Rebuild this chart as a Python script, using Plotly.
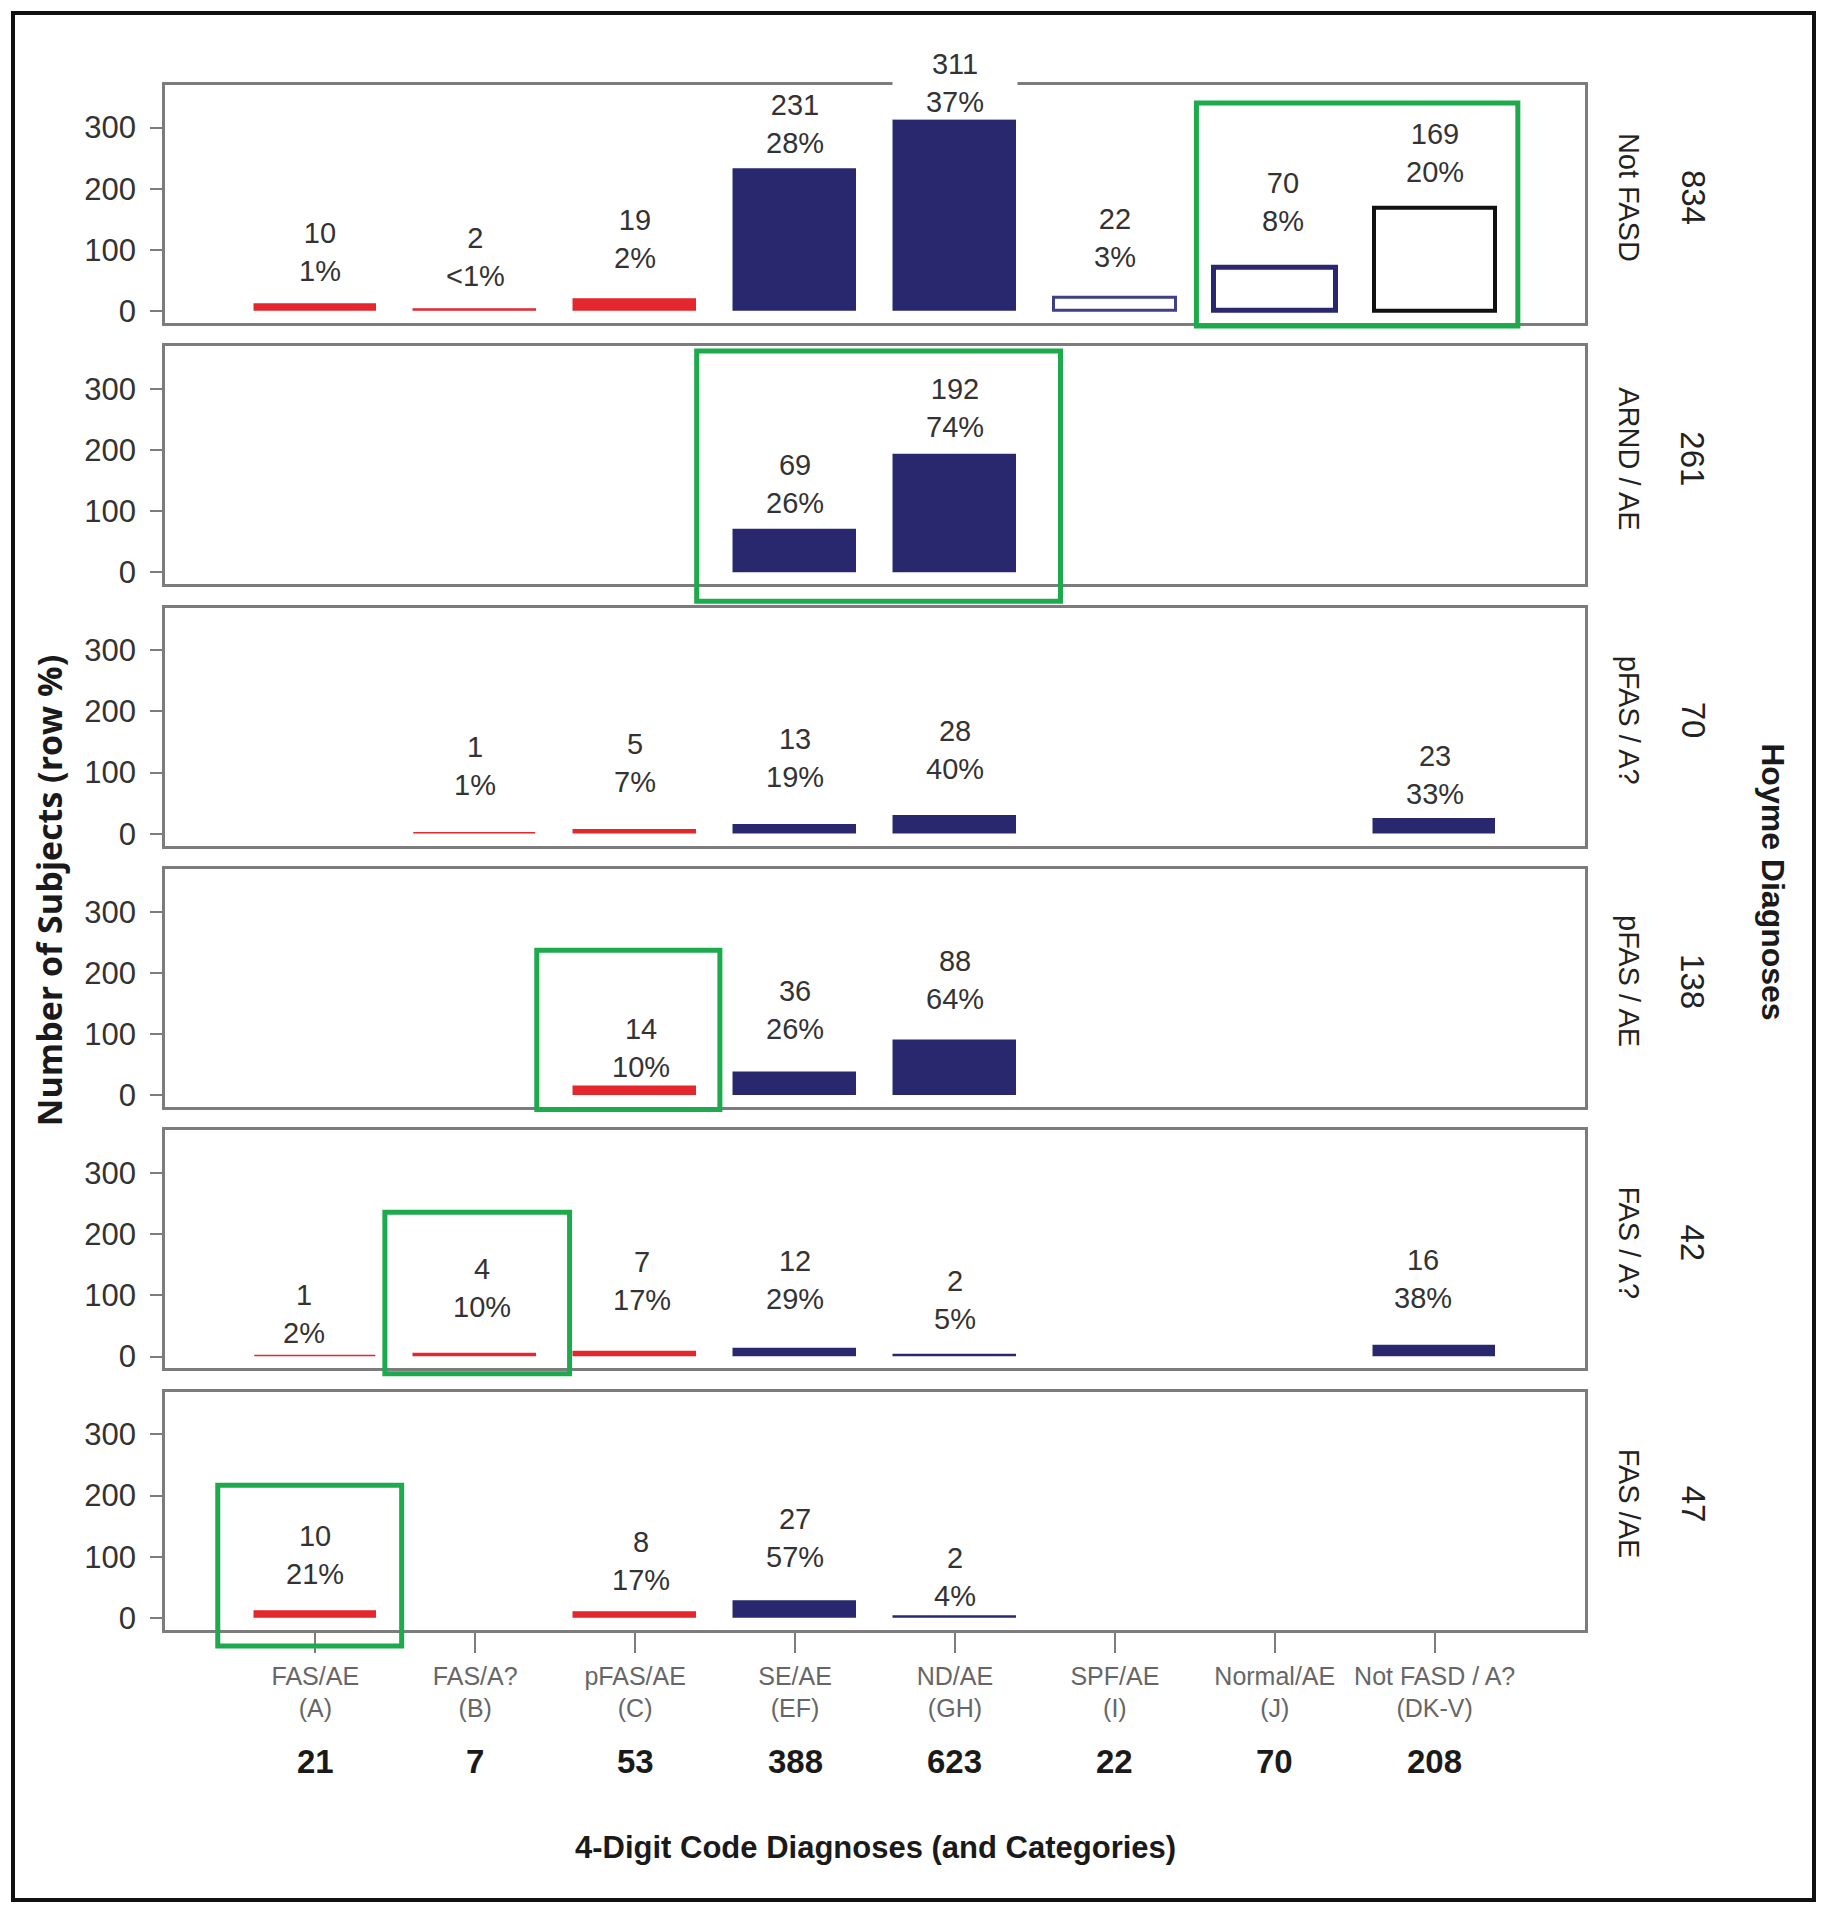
import plotly.graph_objects as go

# ---------------- data ----------------
categories = ["FAS/AE", "FAS/A?", "pFAS/AE", "SE/AE", "ND/AE", "SPF/AE", "Normal/AE", "Not FASD / A?"]
category_codes = ["(A)", "(B)", "(C)", "(EF)", "(GH)", "(I)", "(J)", "(DK-V)"]
hoyme_rows = ["Not FASD", "ARND / AE", "pFAS / A?", "pFAS / AE", "FAS / A?", "FAS /AE"]

counts_not_fasd = [10, 2, 19, 231, 311, 22, 70, 169]
counts_arnd_ae = [None, None, None, 69, 192, None, None, None]
counts_pfas_aq = [None, 1, 5, 13, 28, None, None, 23]
counts_pfas_ae = [None, None, 14, 36, 88, None, None, None]
counts_fas_aq = [1, 4, 7, 12, 2, None, None, 16]
counts_fas_ae = [10, None, 8, 27, 2, None, None, None]

rows = [counts_not_fasd, counts_arnd_ae, counts_pfas_aq, counts_pfas_ae, counts_fas_aq, counts_fas_ae]
row_totals = [sum(v for v in r if v is not None) for r in rows]
col_totals = [sum((r[j] or 0) for r in rows) for j in range(len(categories))]

y_ticks = [0, 100, 200, 300]

# ---------------- styles ----------------
RED = "#e4262e"
NAVY = "#29286f"
GREEN = "#1caa4c"
AXIS = "#7c7c7c"
TXT = "#333333"
FONT = "Liberation Sans, Arial, sans-serif"

cat_color = [RED, RED, RED, NAVY, NAVY, NAVY, NAVY, NAVY]
# hollow (outlined) bars: (row, category) -> (outline colour, outline width)
hollow = {(0, 5): ("#3f3f88", 3), (0, 6): (NAVY, 5), (0, 7): ("#111111", 4)}

# highlight frames, in each panel's data units: (row, x0, x1, y0, y1)
highlights = [
    (0, 5.51, 7.52, -24.5, 340),
    (1, 2.385, 4.66, -47, 362),
    (3, 1.385, 2.53, -23.5, 237),
    (4, 0.435, 1.59, -28, 236),
    (5, -0.61, 0.54, -46, 217),
]

# hand placement of individual value labels, in pixels: (row, category) -> (dx, dy up)
label_nudge = {
    (0, 0): (5, 2), (0, 1): (0, 2), (0, 2): (0, 9), (0, 3): (0, -5), (0, 4): (0, -13),
    (0, 5): (0, 9), (0, 6): (8, 15), (0, 7): (0, 4),
    (1, 3): (0, -5), (1, 4): (0, -4),
    (2, 1): (0, 16), (2, 2): (0, 17), (2, 3): (0, 17), (2, 4): (0, 16), (2, 7): (0, -6),
    (3, 2): (6, -12), (3, 3): (0, 12), (3, 4): (0, 10),
    (4, 0): (-11, -9), (4, 1): (7, 15), (4, 2): (7, 20), (4, 3): (0, 18), (4, 4): (0, 4),
    (4, 7): (-12, 17),
    (5, 0): (0, 6), (5, 2): (6, 1), (5, 3): (0, 12), (5, 4): (0, -11),
}

# ---------------- geometry ----------------
W, H = 1814, 1904
OFF = 8  # page body margin


def px(x):
    return (x - OFF) / W


def py(y):
    return 1 - (y - OFF) / H


XR = [-0.94, 7.94]
YR = [-19.6, 370]
PANEL_TOP0, PANEL_PITCH, PANEL_H = 85, 262.2, 239
X_LEFT, X_RIGHT = 165, 1585
PX_PER_UNIT = PANEL_H / (YR[1] - YR[0])
ZERO_TO_TOP = YR[1] * PX_PER_UNIT
LABEL_SHIFT = 51
LABEL_SIZE = 29


def pct_label(n, tot):
    p = 100.0 * n / tot
    return "<1%" if p < 1 else f"{int(p + 0.5)}%"


def label(xref, yref, x, y, text, shift, dx):
    # a label that reaches over the panel's top border masks it with a white box
    over_top = y * PX_PER_UNIT + shift + 30 > ZERO_TO_TOP
    d = dict(x=x, y=y, xref=xref, yref=yref, text=text, showarrow=False, yshift=shift,
             xshift=dx, xanchor="center", yanchor="middle",
             font=dict(family=FONT, size=LABEL_SIZE, color=TXT))
    if over_top:
        d.update(bgcolor="white", width=122)
    return d


fig = go.Figure()
annotations = []
shapes = []
layout_axes = {}


def paper_text(x, y, text, size, angle=0, family=FONT, color="#222222"):
    return dict(x=px(x), y=py(y), xref="paper", yref="paper", text=text, textangle=angle,
                showarrow=False, xanchor="center", yanchor="middle",
                font=dict(family=family, size=size, color=color))


n_rows = len(rows)
for i, vals in enumerate(rows):
    ax = "" if i == 0 else str(i + 1)
    xs, ys, fills, lcols, lws = [], [], [], [], []
    for j, v in enumerate(vals):
        if v is None:
            continue
        xs.append(j)
        ys.append(v)
        if (i, j) in hollow:
            c, w = hollow[(i, j)]
            fills.append("white")
            lcols.append(c)
            lws.append(w)
        else:
            fills.append(cat_color[j])
            lcols.append(cat_color[j])
            lws.append(1.5)
        dx, dy = label_nudge.get((i, j), (0, 0))
        annotations.append(label("x" + ax, "y" + ax, j, v,
                                 f"{v}<br>{pct_label(v, row_totals[i])}",
                                 LABEL_SHIFT + dy, dx))
    fig.add_trace(go.Bar(x=xs, y=ys, width=0.76, xaxis="x" + ax, yaxis="y" + ax,
                         marker=dict(color=fills, line=dict(color=lcols, width=lws)),
                         showlegend=False, hoverinfo="skip"))

    top = PANEL_TOP0 + PANEL_PITCH * i
    bot = top + PANEL_H
    last = i == n_rows - 1
    layout_axes["xaxis" + ax] = dict(
        domain=[px(X_LEFT), px(X_RIGHT)], range=XR, anchor="y" + ax,
        showline=True, mirror=True, linecolor=AXIS, linewidth=2.5,
        showgrid=False, zeroline=False, fixedrange=True,
        tickvals=list(range(len(categories))),
        ticktext=[f"{c}<br>{k}" for c, k in zip(categories, category_codes)],
        showticklabels=last, ticks="outside" if last else "",
        ticklen=20, tickwidth=2, tickcolor=AXIS, ticklabelstandoff=2,
        tickfont=dict(family=FONT, size=25, color="#666666"),
    )
    layout_axes["yaxis" + ax] = dict(
        domain=[py(bot), py(top)], range=YR, anchor="x" + ax,
        showline=True, mirror=True, linecolor=AXIS, linewidth=2.5,
        showgrid=False, zeroline=False, fixedrange=True,
        tickvals=y_ticks, ticks="outside", ticklen=12, tickwidth=2, tickcolor=AXIS,
        ticklabelstandoff=8, tickfont=dict(family=FONT, size=31, color=TXT),
    )
    # right-hand row labels
    yc = (top + bot) / 2 - 7
    annotations.append(paper_text(1629, yc, hoyme_rows[i], 29, angle=90))
    annotations.append(paper_text(1693, yc, str(row_totals[i]), 33, angle=90))

# column totals under the category labels
last_ax = str(n_rows)
for j, t in enumerate(col_totals):
    annotations.append(dict(x=j, y=py(1767), xref="x" + last_ax, yref="paper", text=f"<b>{t}</b>",
                            showarrow=False, xanchor="center", yanchor="middle",
                            font=dict(family=FONT, size=33, color="#1a1a1a")))

# titles
annotations.append(paper_text(875, 1853, "<b>4-Digit Code Diagnoses (and Categories)</b>", 31,
                              color="#1a1a1a"))
annotations.append(paper_text(49, 894, "<b>Number of Subjects (row %)</b>", 34, angle=-90,
                              family="Open Sans, sans-serif", color="#1a1a1a"))
annotations.append(paper_text(1773, 884, "<b>Hoyme Diagnoses</b>", 32, angle=90, color="#1a1a1a"))

# green highlight frames (converted to axis-domain fractions)
for (r, x0, x1, y0, y1) in highlights:
    ax = "" if r == 0 else str(r + 1)
    fx = lambda v: (v - XR[0]) / (XR[1] - XR[0])
    fy = lambda v: (v - YR[0]) / (YR[1] - YR[0])
    shapes.append(dict(type="rect", xref=f"x{ax} domain", yref=f"y{ax} domain",
                       x0=fx(x0), x1=fx(x1), y0=fy(y0), y1=fy(y1),
                       line=dict(color=GREEN, width=5), fillcolor="rgba(0,0,0,0)", layer="above"))

# outer black frame
shapes.append(dict(type="rect", xref="paper", yref="paper",
                   x0=px(13), x1=px(1814), y0=py(1906), y1=py(13),
                   line=dict(color="#111111", width=4), fillcolor="rgba(0,0,0,0)", layer="below"))

fig.update_layout(
    width=W, height=H, margin=dict(l=0, r=0, t=0, b=0),
    paper_bgcolor="white", plot_bgcolor="white",
    annotations=annotations, shapes=shapes, bargap=0,
    font=dict(family=FONT), showlegend=False,
    **layout_axes,
)

fig.write_html("out.html")
